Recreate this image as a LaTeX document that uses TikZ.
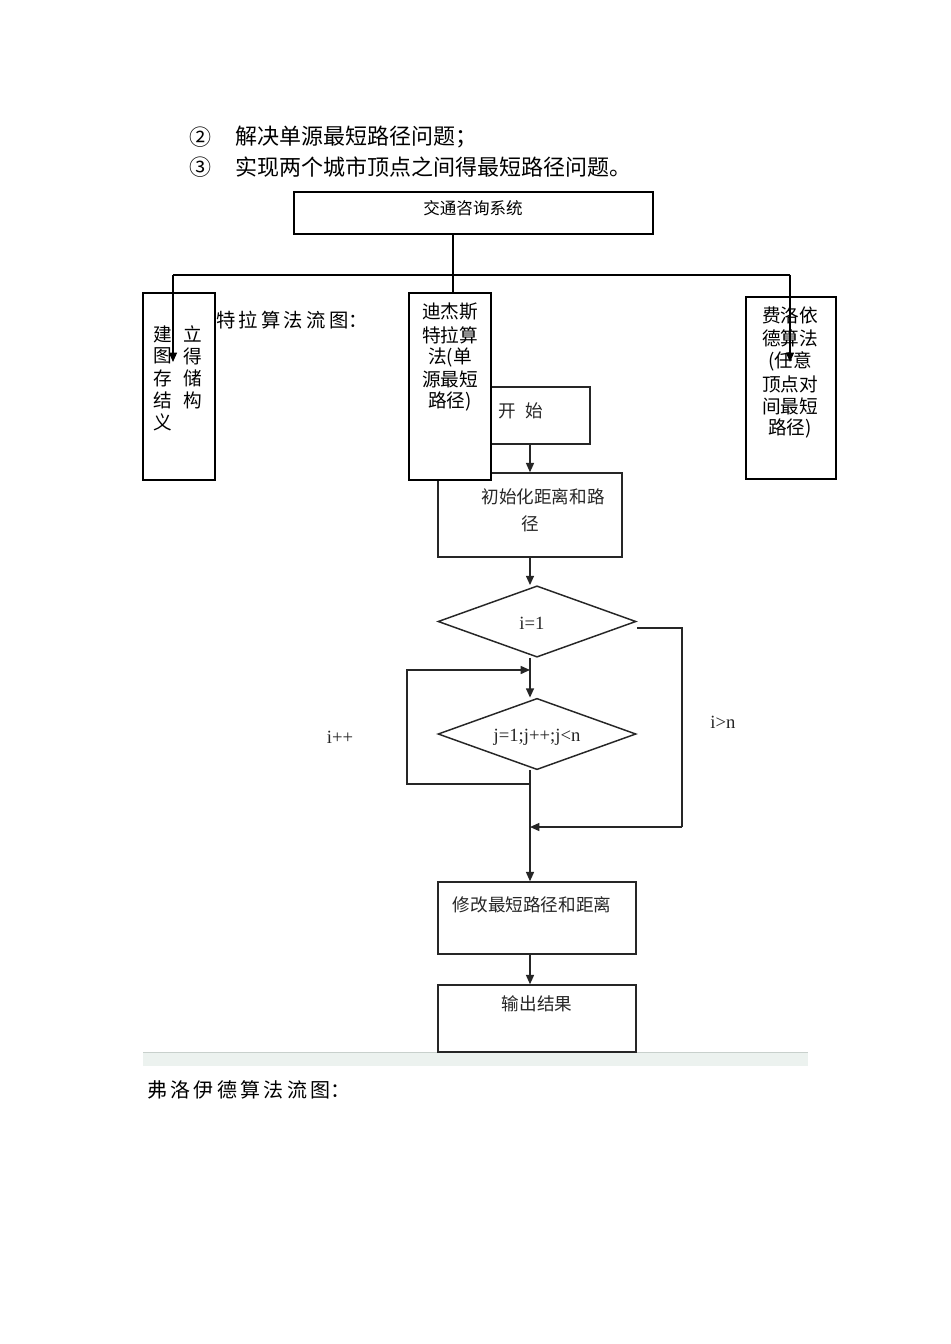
\documentclass[tikz,border=0pt]{standalone}
\usepackage{fontspec}
\setmainfont{Noto Sans CJK SC}
\newfontfamily\latf{Liberation Serif}
\usetikzlibrary{arrows.meta,shapes.geometric,fit}
\begin{document}
\begin{tikzpicture}[x=0.75pt,y=-0.75pt,
  box/.style={draw,line width=0.9pt,fill=white,inner sep=0pt},
  fbox/.style={draw=black!85,line width=1.1pt,inner sep=0pt},
  dia/.style={diamond,draw=black!85,line width=1.1pt,inner sep=0pt,minimum width=148.5pt,minimum height=53.5pt},
  conn/.style={line width=0.9pt},
  fconn/.style={draw=black!85,line width=1.1pt},
  arr/.style={-{Triangle[length=7pt,width=6pt]}},
  head/.style={inner sep=0pt,font=\fontsize{16.5}{18}\selectfont},
  btxt/.style={inner sep=0pt,font=\fontsize{14}{16}\selectfont},
  ftxt/.style={inner sep=0pt,text=black!85,font=\fontsize{13.2}{15}\selectfont},
  ltxt/.style={inner sep=0pt,text=black!85,font=\latf\fontsize{14}{16}\selectfont},
  ttl/.style={inner sep=0pt,font=\fontsize{14.5}{16}\selectfont}
]
\useasboundingbox[fill=white] (0,0) rectangle (950,1344);

% header lines
\node[head] (c2) at (200,137) {②};
\node[head,anchor=west] (l2) at (235,137) {解决单源最短路径问题；};
\node[head] (c3) at (200,167) {③};
\node[head,anchor=west] (l3) at (235,167) {实现两个城市顶点之间得最短路径问题。};

% partially hidden caption
\node[ttl,anchor=west] (cap1) at (216,320) {特\,拉\,算\,法\,流\,图：};

% ---------- flowchart ----------
\node[fbox,fill=white,fit={(438,387) (590,444)}] (st) {};
\node[ftxt] (stt) at (521,411) {开\hspace{7pt}始};
\node[fbox,fit={(438,473) (622,557)}] (init) {};
\node[ftxt] (initt1) at (543,497) {初始化距离和路};
\node[ftxt] (initt2) at (530,524) {径};
\node[dia] (d1) at (537,621.5) {};
\node[ltxt] (d1t) at (532,623) {i=1};
\node[dia] (d2) at (537,734) {};
\node[ltxt] (d2t) at (537,737) {j=1;j++;j<n};
\node[fbox,fit={(438,882) (636,954)}] (mod) {};
\node[ftxt] (modt) at (532,905) {修改最短路径和距离};
\node[fbox,fit={(438,985) (636,1052)}] (out) {};
\node[ftxt] (outt) at (537,1004) {输出结果};
\node[ltxt] (ipp) at (340,737) {i++};
\node[ltxt] (ign) at (723,722) {i>n};

\coordinate (sp) at (530,0);
\coordinate (lpA) at (530,784);
\coordinate (lpB) at (407,784);
\coordinate (lpC) at (407,670);
\coordinate (lpD) at (530,670);
\coordinate (rs) at (637,628);
\coordinate (rb) at (682,628);
\coordinate (mg) at (530,827);

\draw[fconn,arr] (st.south -| init.north) -- (init.north);
\draw[fconn,arr] (init.south) -- (init.south |- d1.north);
\draw[fconn,arr] (d1.south -| sp) -- (d2.north -| sp);
\draw[fconn,arr] (d2.south -| sp) -- (lpA) -- (lpB) -- (lpC) -- (lpD);
\draw[fconn] (rs) -- (rb) -- (rb |- mg);
\draw[fconn,arr] (rb |- mg) -- (mg);
\draw[fconn,arr] (lpA) -- (lpA |- mod.north);
\draw[fconn,arr] (mod.south -| sp) -- (out.north -| sp);

% ---------- structure boxes ----------
\node[box,fit={(294,192) (653,234)}] (top) {};
\node[btxt,font=\fontsize{12.4}{14}\selectfont] (topt) at (473,208) {交通咨询系统};

\node[box,fit={(143,293) (215,480)}] (lb) {};
\node[box,fit={(409,293) (491,480)}] (mb) {};
\node[box,fit={(746,297) (836,479)}] (rbx) {};

% left box text (two columns)
\node[btxt] (lb1) at (163,334) {建};
\node[btxt] (lb2) at (163,356) {图};
\node[btxt] (lb3) at (163,378) {存};
\node[btxt] (lb4) at (163,400) {结};
\node[btxt] (lb5) at (163,422) {义};
\node[btxt] (lb6) at (193,334) {立};
\node[btxt] (lb7) at (193,356) {得};
\node[btxt] (lb8) at (193,378) {储};
\node[btxt] (lb9) at (193,400) {构};

% middle box text
\node[btxt] (mb1) at (450,312) {迪杰斯};
\node[btxt] (mb2) at (450,335) {特拉算};
\node[btxt] (mb3) at (450,357) {法(单};
\node[btxt] (mb4) at (450,379) {源最短};
\node[btxt] (mb5) at (450,401) {路径)};

% right box text
\node[btxt] (rb1) at (790,315) {费洛依};
\node[btxt] (rb2) at (790,338) {德算法};
\node[btxt] (rb3) at (790,361) {(任意};
\node[btxt] (rb4) at (790,384) {顶点对};
\node[btxt] (rb5) at (790,406) {间最短};
\node[btxt] (rb6) at (790,428) {路径)};

% connectors of the structure
\coordinate (hj) at (453,275);
\coordinate (hl) at (173,275);
\coordinate (hr) at (790,275);
\coordinate (al) at (173,362);
\coordinate (ar) at (790,362);
\draw[conn] (top.south -| hj) -- (mb.north -| hj);
\draw[conn] (hl) -- (hr);
\draw[conn,arr] (hl) -- (al);
\draw[conn,arr] (hr) -- (ar);

% ---------- separator band ----------
\fill[fill={rgb,255:red,236;green,242;blue,239}] (143,1053) rectangle (808,1066);
\draw[draw={rgb,255:red,200;green,208;blue,204},line width=0.8pt] (143,1052.5) -- (808,1052.5);
\draw[fbox] (out.south west) -- (out.south east);

\node[ttl,anchor=west,font=\fontsize{15}{17}\selectfont] (cap2) at (147,1090) {弗\,洛\,伊\,德\,算\,法\,流\,图：};
\end{tikzpicture}
\end{document}
